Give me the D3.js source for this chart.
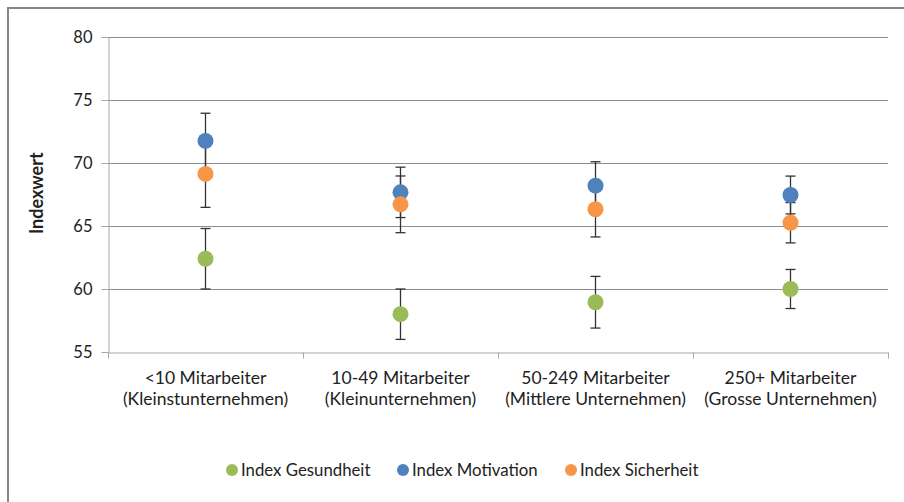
<!DOCTYPE html>
<html>
<head>
<meta charset="utf-8">
<script src="https://cdn.jsdelivr.net/npm/d3@7"></script>
<style>
  body { margin: 0; background: #fff; }
  svg text { font-family: Lato, "Open Sans", sans-serif; fill: #222; }
</style>
</head>
<body>
<div id="vizArea"></div>
<script>
const categories = ["<10 Mitarbeiter|(Kleinstunternehmen)", "10-49 Mitarbeiter|(Kleinunternehmen)",
  "50-249 Mitarbeiter|(Mittlere Unternehmen)", "250+ Mitarbeiter|(Grosse Unternehmen)"];
const seriesNames = ["Index Gesundheit", "Index Motivation", "Index Sicherheit"];
const seriesColors = ["#9bbb59", "#4f81bd", "#f79646"];
const gesundheit = [62.4, 58.0, 58.95, 60.0];
const gesundheitErr = [2.4, 2.0, 2.05, 1.55];
const motivation = [71.75, 67.67, 68.2, 67.46];
const motivationErr = [2.2, 2.0, 1.9, 1.5];
const sicherheit = [69.13, 66.72, 66.33, 65.26];
const sicherheitErr = [2.65, 2.25, 2.2, 1.6];
const yTicks = [55, 60, 65, 70, 75, 80];

const series = [
  { name: seriesNames[0], color: seriesColors[0], values: gesundheit, err: gesundheitErr },
  { name: seriesNames[1], color: seriesColors[1], values: motivation, err: motivationErr },
  { name: seriesNames[2], color: seriesColors[2], values: sicherheit, err: sicherheitErr }
];

const W = 904, H = 502;
const margin = { top: 37, right: 16, bottom: 150, left: 108 },
    width = W - margin.left - margin.right,
    height = H - margin.top - margin.bottom;

const root = d3.select("#vizArea")
    .append("svg")
    .attr("width", W)
    .attr("height", H);

// chart frame (only top and left edge visible)
root.append("path")
    .attr("d", `M8,${H} L8,8 L${W},8`)
    .attr("fill", "none")
    .attr("stroke", "#878787")
    .attr("stroke-width", 2);

const svg = root.append("g")
    .attr("transform", "translate(" + margin.left + "," + margin.top + ")");

const x = d3.scaleBand()
    .domain(categories)
    .range([0, width]);

const y = d3.scaleLinear()
    .domain([55, 80])
    .range([height, 0]);

// gridlines
svg.append("g")
    .selectAll("line")
    .data(yTicks.filter(t => t > 55))
    .join("line")
    .attr("x1", 0).attr("x2", width)
    .attr("y1", d => Math.round(y(d)) + 0.5).attr("y2", d => Math.round(y(d)) + 0.5)
    .attr("stroke", "#8c8c8c")
    .attr("stroke-width", 1.2);

// y axis
const yAxis = svg.append("g")
    .attr("transform", "translate(0.5,0)")
    .call(d3.axisLeft(y).tickValues(yTicks).tickSize(7).tickPadding(9).tickSizeOuter(0));
yAxis.select(".domain").attr("stroke", "#a6a6a6");
yAxis.selectAll(".tick line").attr("stroke", "#a6a6a6");
yAxis.selectAll(".tick text")
    .style("font-size", "16.5px")
    .attr("fill", "#222");

// x axis
const xAxis = svg.append("g")
    .attr("transform", `translate(0,${Math.round(height) + 0.5})`)
    .call(d3.axisBottom(x).tickSize(0).tickFormat(""));
xAxis.select(".domain").attr("stroke", "#a6a6a6");
xAxis.selectAll(".tick").remove();

xAxis.selectAll("line.sep")
    .data(d3.range(categories.length + 1))
    .join("line")
    .attr("class", "sep")
    .attr("x1", i => Math.round(i * x.bandwidth()) + 0.5)
    .attr("x2", i => Math.round(i * x.bandwidth()) + 0.5)
    .attr("y1", 0).attr("y2", 6)
    .attr("stroke", "#a6a6a6");

const labels = svg.append("g")
    .selectAll("text")
    .data(categories)
    .join("text")
    .attr("text-anchor", "middle")
    .attr("x", d => x(d) + x.bandwidth() / 2)
    .attr("y", height + 32)
    .style("font-size", "17.5px");
labels.selectAll("tspan")
    .data(d => d.split("|"))
    .join("tspan")
    .attr("x", function () { return d3.select(this.parentNode).attr("x"); })
    .attr("dy", (d, i) => i === 0 ? 0 : 21)
    .text(d => d);

// y axis title
svg.append("text")
    .attr("transform", `translate(-65,${y(67.6)}) rotate(-90)`)
    .attr("text-anchor", "middle")
    .style("font-size", "18px")
    .style("font-weight", "bold")
    .text("Indexwert");

const cx = i => x(categories[i]) + x.bandwidth() / 2;

// error bars
const errG = svg.append("g");
series.forEach(s => {
  s.values.forEach((v, i) => {
    const g = errG.append("g").attr("stroke", "#333").attr("stroke-width", 1.3);
    g.append("line")
        .attr("x1", cx(i)).attr("x2", cx(i))
        .attr("y1", y(v - s.err[i])).attr("y2", y(v + s.err[i]));
    [v - s.err[i], v + s.err[i]].forEach(e => {
      g.append("line")
          .attr("x1", cx(i) - 5).attr("x2", cx(i) + 5)
          .attr("y1", y(e)).attr("y2", y(e));
    });
  });
});

// markers
series.forEach(s => {
  svg.append("g")
      .selectAll("circle")
      .data(s.values)
      .join("circle")
      .attr("cx", (d, i) => cx(i))
      .attr("cy", d => y(d))
      .attr("r", 8)
      .attr("fill", s.color);
});

// legend
const legendX = [232, 403, 571];
const legend = root.append("g")
    .selectAll("g")
    .data(series)
    .join("g")
    .attr("transform", (d, i) => `translate(${legendX[i]},470)`);
legend.append("circle")
    .attr("r", 6)
    .attr("fill", d => d.color);
legend.append("text")
    .attr("x", 9)
    .attr("dy", "0.35em")
    .style("font-size", "16.8px")
    .text(d => d.name);
</script>
</body>
</html>
